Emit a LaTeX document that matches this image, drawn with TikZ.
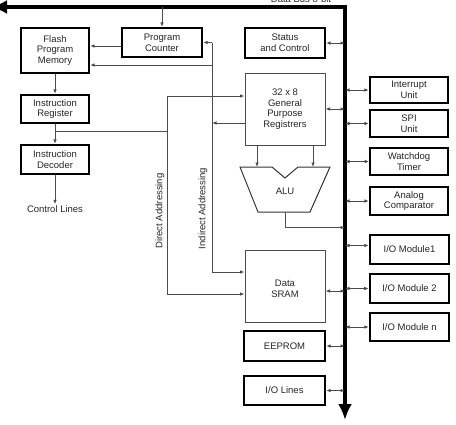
\documentclass[tikz,border=0pt]{standalone}
\usepackage{fontspec}
\setmainfont{Liberation Sans}
\usetikzlibrary{arrows.meta}
\begin{document}
\begin{tikzpicture}[x=1pt,y=-1pt,
  font=\fontsize{9.5}{10.6}\selectfont,
  every node/.style={text=black!85},
  unit/.style={draw=black, line width=2.3pt, align=center, inner sep=0pt},
  softunit/.style={draw=black!70, line width=1pt, align=center, inner sep=0pt},
  wire/.style={draw=black!70, line width=0.9pt},
  arr/.style={wire, -{Latex[length=4.5pt,width=3.6pt]}},
  dbl/.style={wire, {Latex[length=4.5pt,width=3.6pt]}-{Latex[length=4.5pt,width=3.6pt]}},
  bus/.style={draw=black, line width=3.6pt, {Latex[length=16pt,width=14pt]}-{Latex[length=16pt,width=14pt]}}
]
\useasboundingbox (0,0) rectangle (456,424);

% data bus
\coordinate (busL) at (-9,7);
\coordinate (busc) at (345,7);
\coordinate (busB) at (345,420);
\draw[bus] (busL) -- (busc) -- (busB);
\node[anchor=base] (buslab) at (301,2.5) {Data Bus 8-bit};

% program side
\node[unit, minimum width=80pt, minimum height=29pt] (pc) at (162,42.5) {Program\\Counter};
\node[unit, minimum width=68pt, minimum height=45pt] (flash) at (55,50.5) {Flash\\Program\\Memory};
\node[unit, minimum width=68pt, minimum height=28pt] (ir) at (55,109) {Instruction\\Register};
\node[unit, minimum width=68pt, minimum height=29pt] (id) at (55,159.5) {Instruction\\Decoder};
\node[inner sep=1pt] (ctrl) at (55,209) {Control Lines};

% core
\node[unit, minimum width=80pt, minimum height=30pt] (status) at (285,43) {Status\\and Control};
\node[softunit, minimum width=80pt, minimum height=72pt] (gpr) at (285,109) {32 x 8\\General\\Purpose\\Registrers};
\node[softunit, minimum width=80pt, minimum height=72pt] (sram) at (285,286) {\\[1pt]Data\\SRAM};
\node[unit, minimum width=81pt, minimum height=30pt] (eeprom) at (284.5,346) {EEPROM};
\node[unit, minimum width=81pt, minimum height=29pt] (iolines) at (284.5,390.5) {I/O Lines};

% ALU
\draw[draw=black!80, line width=1pt, fill=white]
  (240,167) -- (272,167) -- (285,178) -- (298,167) -- (330,167)
  -- (310,212) -- (258,212) -- cycle;
\node (alu) at (285,191.5) {ALU};
\coordinate (aluA) at (257,167);
\coordinate (aluB) at (313,167);
\coordinate (aluO) at (285,212);
\coordinate (aluBus) at (345,227.5);

% peripherals
\node[unit, minimum width=78pt, minimum height=26pt] (irq) at (409,90) {Interrupt\\Unit};
\node[unit, minimum width=78pt, minimum height=27pt] (spi) at (409,123.5) {SPI\\Unit};
\node[unit, line width=1.7pt, minimum width=78pt, minimum height=27pt] (wdt) at (409,161.5) {Watchdog\\Timer};
\node[unit, minimum width=78pt, minimum height=28pt] (acmp) at (409,201) {Analog\\Comparator};
\node[unit, minimum width=79pt, minimum height=29pt] (io1) at (409.5,249.5) {I/O Module1};
\node[unit, line width=2.6pt, minimum width=79pt, minimum height=29pt] (io2) at (409.5,288.5) {I/O Module 2};
\node[unit, minimum width=79pt, minimum height=28pt] (ion) at (409.5,327) {I/O Module n};

% program flow
\draw[arr] (pc.north |- busc) -- (pc.north);
\draw[arr] ([yshift=-3.5pt]pc.west) -- ([yshift=-3.5pt]pc.west -| flash.east);
\draw[arr] (flash) -- (ir);
\draw[arr] (ir) -- (id);
\draw[arr] (id) -- (ctrl);

% direct addressing
\coordinate (daTop) at (167,96);
\coordinate (irTap) at (55,131);
\draw[arr] (daTop) -- (daTop -| gpr.west);
\draw[arr] (daTop) |- ([yshift=-8pt]sram.west);
\draw[wire] (irTap) -- (irTap -| daTop);
\node[rotate=90] (dalab) at (160,211) {Direct Addressing};

% indirect addressing
\coordinate (iaTop) at (212,42.5);
\coordinate (iaFl) at (212,65);
\draw[arr] (iaTop) -- (pc.east);
\draw[arr] (iaTop) |- ([yshift=14pt]sram.west);
\draw[arr] (iaFl) -- (iaFl -| flash.east);
\draw[arr] ([yshift=-14pt]gpr.west) -- ([yshift=-14pt]gpr.west -| iaTop);
\node[rotate=90] (ialab) at (203,208.5) {Indirect Addressing};

% registers and ALU
\draw[arr] (gpr.south -| aluA) -- (aluA);
\draw[arr] (gpr.south -| aluB) -- (aluB);
\draw[arr] (aluO) |- (aluBus);

% bus taps, left side
\draw[dbl] (status.east) -- (status.east -| busc);
\draw[dbl] (gpr.east) -- (gpr.east -| busc);
\draw[dbl] ([yshift=-5pt]sram.east) -- ([yshift=-5pt]sram.east -| busc);
\draw[dbl] (eeprom.east) -- (eeprom.east -| busc);
\draw[dbl] (iolines.east) -- (iolines.east -| busc);

% bus taps, right side
\draw[dbl] (irq.west -| busc) -- (irq.west);
\draw[dbl] (spi.west -| busc) -- (spi.west);
\draw[dbl] (wdt.west -| busc) -- (wdt.west);
\draw[dbl] (acmp.west -| busc) -- (acmp.west);
\draw[dbl] ([yshift=4pt]io1.west -| busc) -- ([yshift=4pt]io1.west);
\draw[dbl] (io2.west -| busc) -- (io2.west);
\draw[dbl] (ion.west -| busc) -- (ion.west);
\end{tikzpicture}
\end{document}
